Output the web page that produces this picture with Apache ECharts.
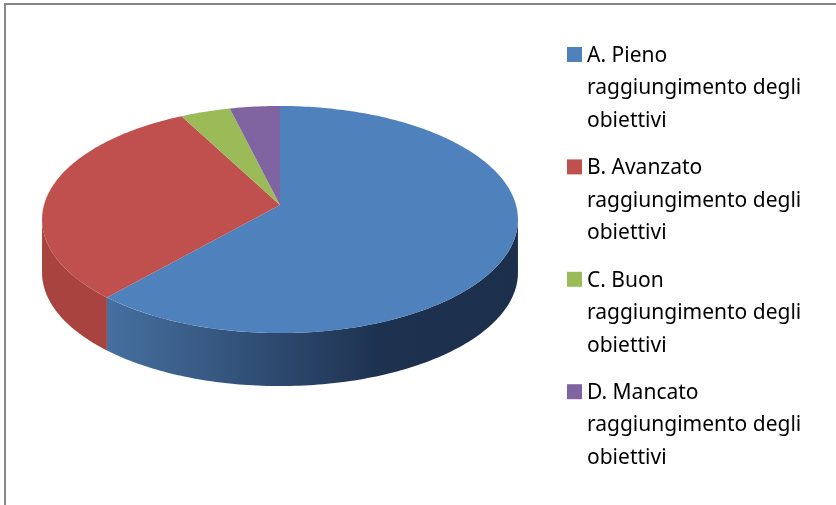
<!DOCTYPE html>
<html>
<head>
<meta charset="utf-8">
<script src="https://cdn.jsdelivr.net/npm/echarts@6/dist/echarts.min.js"></script>
<style>
  html, body { margin: 0; padding: 0; background: #fff; }
  #main { width: 836px; height: 505px; }
</style>
</head>
<body>
<div id="main"></div>
<script>
var myChart = echarts.init(document.getElementById('main'));

// dati
var categories = [
    'A. Pieno raggiungimento degli obiettivi',
    'B. Avanzato raggiungimento degli obiettivi',
    'C. Buon raggiungimento degli obiettivi',
    'D. Mancato raggiungimento degli obiettivi'
];
var legendLabels = [
    'A. Pieno\nraggiungimento degli\nobiettivi',
    'B. Avanzato\nraggiungimento degli\nobiettivi',
    'C. Buon\nraggiungimento degli\nobiettivi',
    'D. Mancato\nraggiungimento degli\nobiettivi'
];
var values = [16, 8, 1, 1];
var colors = ['#4F81BD', '#C0504D', '#9BBB59', '#8064A2'];

// geometria della torta 3D (prospettiva semplice)
var CX = 280, CY = 205;     // centro della torta
var RX = 236, RY = 111.7;   // raggi
var PERSP = 0.128;          // fattore di prospettiva
var DEPTH = 53;             // spessore
var FRONT0 = Math.PI / 2 + Math.asin(PERSP);       // bordo destro visibile
var FRONT1 = 3 * Math.PI / 2 - Math.asin(PERSP);   // bordo sinistro visibile

var sideColors = [
    [{ offset: 0, color: '#4670a0' }, { offset: 0.66, color: '#1e3250' }, { offset: 1, color: '#1c2f4b' }],
    [{ offset: 0, color: '#a9433f' }, { offset: 1, color: '#a9433f' }],
    [{ offset: 0, color: '#7e9a48' }, { offset: 1, color: '#7e9a48' }],
    [{ offset: 0, color: '#6a5388' }, { offset: 1, color: '#6a5388' }]
];

var total = values.reduce(function (a, b) { return a + b; }, 0);

// angolo in senso orario dall'alto
function proj(theta, dz) {
    var u = Math.sin(theta), v = -Math.cos(theta);
    var t = 1 - PERSP * v;
    return [CX + RX * u / t, CY + RY * v / t + dz];
}

function arcPoints(a0, a1, dz) {
    var pts = [];
    var n = Math.max(2, Math.ceil((a1 - a0) / (Math.PI / 180)));
    for (var i = 0; i <= n; i++) {
        pts.push(proj(a0 + (a1 - a0) * i / n, dz));
    }
    return pts;
}

function renderSlice(params, api) {
    var idx = params.dataIndex;
    var before = 0;
    for (var i = 0; i < idx; i++) before += values[i];
    var a0 = before / total * Math.PI * 2;
    var a1 = (before + api.value(0)) / total * Math.PI * 2;
    var children = [];

    // lato visibile
    var s0 = Math.max(a0, FRONT0), s1 = Math.min(a1, FRONT1);
    if (s1 > s0) {
        var top = arcPoints(s0, s1, 0);
        var bottom = arcPoints(s0, s1, DEPTH).reverse();
        children.push({
            type: 'polygon',
            shape: { points: top.concat(bottom) },
            style: {
                fill: {
                    type: 'linear', x: 108, y: 0, x2: 518, y2: 0, global: true,
                    colorStops: sideColors[idx]
                }
            }
        });
    }

    // faccia superiore
    var pts = [[CX, CY]].concat(arcPoints(a0, a1, 0));
    children.push({
        type: 'polygon',
        shape: { points: pts },
        style: { fill: colors[idx] }
    });

    return { type: 'group', children: children };
}

// legenda disegnata a mano
var legendGraphic = [];
legendLabels.forEach(function (label, i) {
    var y0 = 47 + i * 112.4;
    legendGraphic.push({
        type: 'rect',
        shape: { x: 567, y: y0, width: 15, height: 15 },
        style: { fill: colors[i] }
    });
    legendGraphic.push({
        type: 'text',
        x: 587,
        y: y0 + 7.5 - 15,
        style: {
            text: label,
            fill: '#000',
            font: '21px "Noto Sans"',
            lineHeight: 32.5,
            verticalAlign: 'top'
        }
    });
});

var myOption = {
    animation: false,
    graphic: [
        {
            type: 'rect',
            shape: { x: 5, y: 4, width: 900, height: 600 },
            style: { fill: 'none', stroke: '#878787', lineWidth: 2 }
        }
    ].concat(legendGraphic),
    series: [
        {
            name: 'Obiettivi',
            type: 'custom',
            coordinateSystem: 'none',
            renderItem: renderSlice,
            data: values.map(function (v, i) {
                return { name: categories[i], value: v };
            })
        }
    ]
};

myChart.setOption(myOption);
</script>
</body>
</html>
